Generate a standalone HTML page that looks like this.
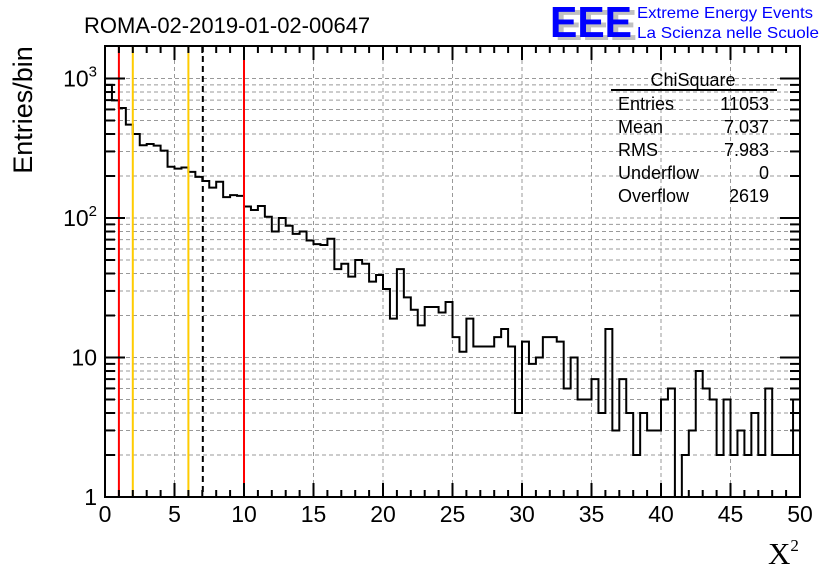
<!DOCTYPE html>
<html><head><meta charset="utf-8"><style>
body{margin:0;background:#fff;width:836px;height:572px;overflow:hidden}
svg{display:block;font-family:"Liberation Sans",sans-serif}
</style></head><body>
<svg id="chart" width="836" height="572" xmlns="http://www.w3.org/2000/svg">
<rect width="836" height="572" fill="#fff"/>
<g id="grid"></g><g id="marks"></g><g id="axes"></g>
<text x="84" y="33" font-size="22">ROMA-02-2019-01-02-00647</text>
<g>
<text x="555" y="40" font-size="44" font-weight="bold" fill="#c0c0c0" textLength="82" lengthAdjust="spacingAndGlyphs">EEE</text>
<text x="550" y="37" font-size="44" font-weight="bold" fill="#0000ff" textLength="82" lengthAdjust="spacingAndGlyphs">EEE</text>
<text x="637" y="18" font-size="16" fill="#0000ff" textLength="176" lengthAdjust="spacingAndGlyphs">Extreme Energy Events</text>
<text x="637" y="38" font-size="16" fill="#0000ff" textLength="182" lengthAdjust="spacingAndGlyphs">La Scienza nelle Scuole</text>
</g>
<text transform="translate(32,110) rotate(-90)" text-anchor="middle" font-size="27">Entries/bin</text>
<text x="768" y="564" font-size="31" font-family="Liberation Serif,serif">X<tspan font-size="17" dy="-13">2</tspan></text>
<g font-size="18">
<text x="693" y="86" text-anchor="middle">ChiSquare</text>
<line x1="611" y1="90" x2="777" y2="90" stroke="#000" stroke-width="2"/>
<text x="618" y="110">Entries</text><text x="769" y="110" text-anchor="end">11053</text>
<text x="618" y="133">Mean</text><text x="769" y="133" text-anchor="end">7.037</text>
<text x="618" y="156">RMS</text><text x="769" y="156" text-anchor="end">7.983</text>
<text x="618" y="179">Underflow</text><text x="769" y="179" text-anchor="end">0</text>
<text x="618" y="202">Overflow</text><text x="769" y="202" text-anchor="end">2619</text>
</g>
</svg>
<script>
const counts=[900,697,614,467,400,332,339,330,304,233,226,230,214,197,184,165,182,141,146,144,121,114,122,102,80,100,88,77,80,69,65,64,71,43,47,38,50,47,35,39,31,19,43,27,22,17,23,23,21,25,14,11,19,12,12,12,14,16,12,4,13,9,10,14,14,13,6,10,5,5,7,4,16,3,7,4,2,4,3,3,5,6,0,2,3,8,6,5,2,5,2,3,2,4,2,6,2,2,2,5];
const binWidth=0.5;
const xTicks=[0,5,10,15,20,25,30,35,40,45,50];
const yDecades=[1,10,100,1000];
const yLabels=["1","10","10²","10³"];
const cutLines=[{v:1,c:"#ff0000",n:"cut-line-min"},{v:2,c:"#ffcc00",n:"window-line-low"},{v:6,c:"#ffcc00",n:"window-line-high"},{v:10,c:"#ff0000",n:"cut-line-max"}];
const meanValue=7.037;
const L=105,R=800,T=46,B=497;
const X=v=>L+(v/50)*(R-L);
const Yc=v=>Math.min(B,Math.max(T,B-Math.log10(v)*139.5));
const NS="http://www.w3.org/2000/svg";
function mk(p,t,a){const e=document.createElementNS(NS,t);for(const k in a)e.setAttribute(k,a[k]);p.appendChild(e);return e;}
const grid=document.getElementById('grid'),marks=document.getElementById('marks'),axes=document.getElementById('axes');
xTicks.forEach(t=>{if(t>0&&t<50){const l=mk(grid,'line',{x1:X(t),x2:X(t),y1:T,y2:B,stroke:'#999','stroke-dasharray':'4,3'});

}});
for(let d=1;d<=1000;d*=10){for(let m=1;m<10;m++){const v=d*m;if(v<=1||Yc(v)<=T)continue;const l=mk(grid,'line',{x1:L,x2:R,y1:Yc(v),y2:Yc(v),stroke:'#999','stroke-dasharray':'4,3'});

}}
let d='';counts.forEach((c,i)=>{const x0=X(i*binWidth),x1=X((i+1)*binWidth);const y=c>0?Yc(c):B;d+=(i===0?`M${x0},${y}`:`L${x0},${y}`)+`L${x1},${y}`;});
const h=mk(marks,'path',{d:d,fill:'none',stroke:'#000','stroke-width':2});


cutLines.forEach(c=>{const l=mk(marks,'line',{x1:X(c.v),x2:X(c.v),y1:T,y2:B,stroke:c.c,'stroke-width':2});

});
const ml=mk(marks,'line',{x1:X(meanValue),x2:X(meanValue),y1:T,y2:B,stroke:'#000','stroke-width':2,'stroke-dasharray':'6,4'});


const fr=mk(axes,'rect',{x:L,y:T,width:R-L,height:B-T,fill:'none',stroke:'#000','stroke-width':2});


for(let t=0;t<=50;t++){const len=t%5===0?14:7;mk(axes,'line',{x1:X(t),x2:X(t),y1:B,y2:B-len,stroke:'#000','stroke-width':2});mk(axes,'line',{x1:X(t),x2:X(t),y1:T,y2:T+len,stroke:'#000','stroke-width':2});}
xTicks.forEach(t=>{const e=mk(axes,'text',{x:X(t),y:522,'text-anchor':'middle','font-size':23});e.textContent=t;

});
for(let d=1;d<=1000;d*=10){for(let m=1;m<10;m++){const v=d*m;const y=Yc(v);if(y<=T)continue;const len=m===1?20:10;mk(axes,'line',{x1:L,x2:L+len,y1:y,y2:y,stroke:'#000','stroke-width':2});mk(axes,'line',{x1:R,x2:R-len,y1:y,y2:y,stroke:'#000','stroke-width':2});}}
yDecades.forEach((v,i)=>{const e=mk(axes,'text',{x:97,y:Yc(v)+8,'text-anchor':'end','font-size':23});
if(i<2)e.textContent=yLabels[i];else{e.textContent='10';const s=mk(e,'tspan',{'font-size':15,dy:-10});s.textContent=String(i);}

});
</script>
</body></html>
